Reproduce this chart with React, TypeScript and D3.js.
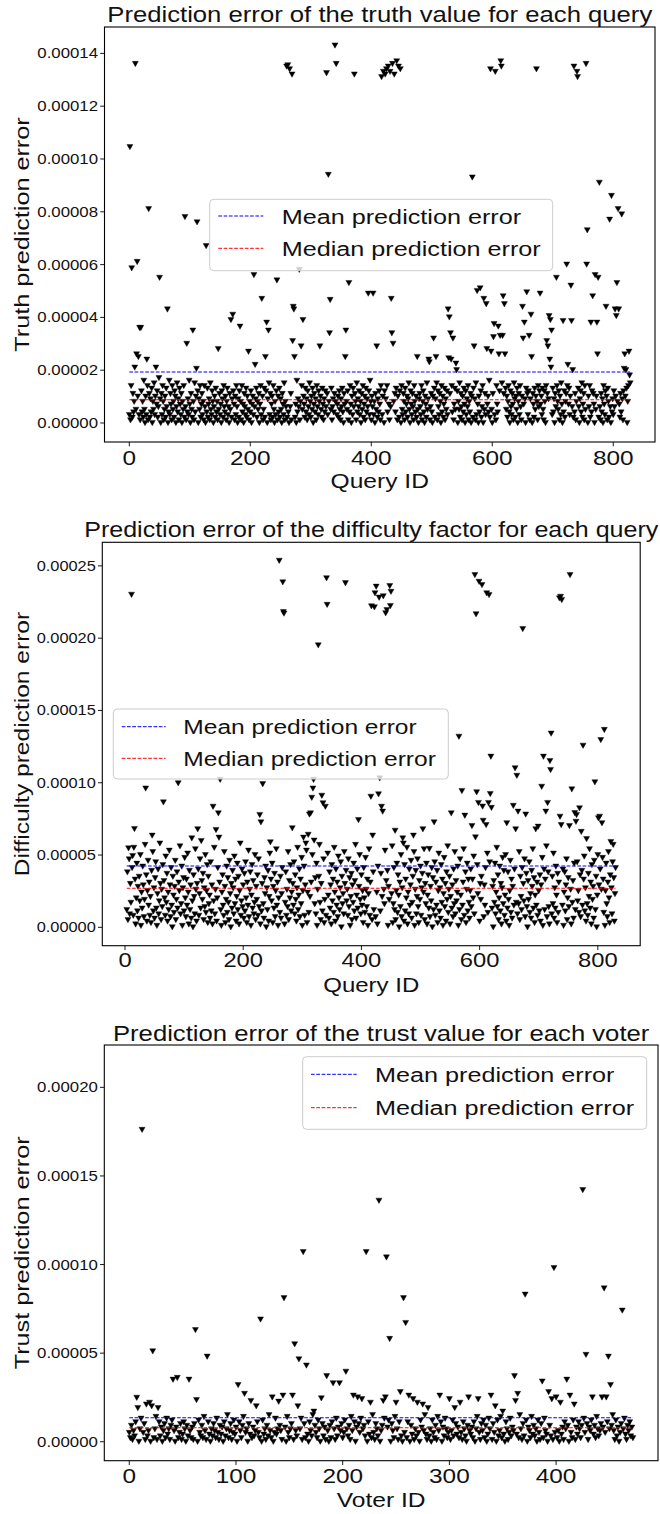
import * as d3 from "d3";

const FONT = "'Liberation Sans', Arial, Helvetica, sans-serif";

// all error values below are in units of 1e-6

// truth value prediction error, query IDs 0..828
const truthBand = [
  3, 9, 1, 14, 6, 2, 11, 4, 8, 0, 13, 5, 7, 2, 10, 15, 3, 6, 1, 9,
  12, 4, 8, 2, 16, 5, 0, 10, 3, 7, 14, 1, 6, 11, 2, 9, 4, 13, 0, 8,
  5, 15, 3, 10, 1, 7, 12, 2, 6, 17, 4, 9, 0, 11, 3, 14, 8, 1, 5, 10,
  2, 13, 6, 9, 0, 4, 16, 3, 11, 7, 1, 14, 5, 8, 2, 12, 10, 0, 6, 15,
  4, 9, 1, 13, 7, 3, 11, 0, 8, 5, 14, 2, 10, 6, 1, 12, 4, 9, 3, 16,
  7, 0, 11, 5, 2, 13, 8, 1, 15, 4, 10, 3, 6, 12, 0, 9, 5, 14, 2, 7,
  11, 3, 8, 1, 14, 6, 0, 10, 4, 13, 2, 7, 9, 1, 15, 5, 3, 12, 8, 0,
  6, 10, 2, 13, 4, 8, 1, 15, 5, 11, 3, 7, 0, 12, 9, 2, 14, 6, 4, 10,
  1, 8, 13, 3, 6, 0, 11, 5, 15, 2, 9, 4, 12, 7, 1, 10, 3, 14, 6, 0,
  9, 2, 12, 5, 8, 1, 14, 4, 7, 0, 11, 6, 3, 13, 2, 10, 5, 16, 1, 8,
  4, 12, 0, 7, 10, 3, 15, 6, 1, 9, 13, 2, 8, 5, 11, 0, 7, 14, 3, 6,
  10, 1, 5, 13, 2, 8, 12, 4, 0, 9, 6, 15, 3, 11, 1, 7, 10, 2, 14, 5,
  0, 8, 3, 12, 6, 1, 10, 4, 13, 2, 9, 5, 0, 11, 7, 3, 15, 1, 8, 6,
  12, 2, 9, 4, 0, 14, 6, 11, 1, 8, 3, 13, 5, 10, 2, 7, 0, 16, 4, 9,
  6, 11, 1, 8, 3, 14, 5, 0, 10, 7, 2, 13, 4, 9, 1, 12, 6, 3, 15, 8,
  2, 10, 5, 13, 0, 7, 11, 4, 9, 1, 14, 6, 3, 12, 8, 0, 10, 5, 2, 13,
  7, 1, 9, 4, 12, 6, 0, 11, 3, 15, 8, 2, 10, 5, 13, 1, 6, 9, 4, 11,
  0, 8, 14, 3, 7, 10, 2, 12, 5, 1, 9, 6, 13, 4, 0, 11, 7, 3, 15, 8,
  5, 12, 1, 9, 4, 14, 7, 0, 10, 3, 13, 6, 2, 11, 8, 1, 15, 4, 9, 6,
  12, 3, 8, 0, 11, 5, 14, 2, 7, 10, 1, 13, 4, 9, 6, 0, 12, 3, 16, 8,
  1, 10, 6, 13, 3, 8, 0, 11, 5, 15, 2, 9, 4, 12, 7, 1, 14, 6, 3, 10,
  8, 0, 12, 5, 9, 2, 14, 4, 11, 7, 1, 13, 6, 3, 10, 0, 15, 8, 2, 11,
  4, 13, 7, 1, 10, 6, 2, 12, 9, 0, 14, 5, 3, 11, 8, 1, 13, 4, 7, 10,
  2, 9, 15, 5, 0, 12, 7, 3, 11, 6, 1, 14, 8, 4, 10, 2, 13, 5, 0, 9,
  11, 6, 3, 14, 1, 8, 12, 4, 0, 10, 7, 2, 15, 5, 9, 3, 13, 1, 6, 11,
  4, 0, 10, 7, 13, 2, 9, 5, 15, 1, 12, 6, 3, 11, 8, 0, 14, 4, 10, 2,
  7, 13, 1, 9, 5, 12, 3, 16, 6, 0, 11, 8, 2, 14, 4, 10, 1, 7, 13, 5,
  9, 3, 12, 0, 8, 5, 15, 2, 11, 6, 1, 10, 4, 13, 7, 0, 12, 3, 9, 6,
  14, 1, 8, 4, 11, 0, 10, 6, 2, 13, 5, 9, 1, 15, 3, 12, 7, 0, 10, 4,
  8, 12, 2, 6, 14, 0, 9, 5, 11, 3, 13, 1, 7, 10, 4, 16, 2, 8, 12, 5,
  0, 11, 6, 13, 3, 9, 1, 14, 7, 4, 10, 2, 12, 5, 8, 0, 15, 6, 3, 11,
  9, 1, 13, 5, 10, 2, 8, 14, 4, 0, 12, 6, 3, 11, 7, 1, 15, 9, 2, 10,
  5, 13, 0, 8, 11, 3, 14, 6, 1, 10, 4, 12, 7, 2, 9, 0, 13, 5, 11, 3,
  12, 6, 1, 9, 15, 4, 0, 11, 7, 2, 13, 5, 10, 3, 8, 1, 14, 6, 12, 0,
  7, 10, 3, 13, 5, 1, 12, 8, 0, 14, 6, 11, 2, 9, 4, 15, 1, 10, 7, 3,
  13, 4, 9, 0, 11, 6, 2, 14, 8, 5, 12, 1, 10, 3, 15, 7, 0, 9, 4, 12,
  2, 8, 11, 5, 14, 1, 7, 13, 3, 10, 0, 12, 6, 9, 2, 15, 4, 11, 1, 8,
  10, 3, 13, 6, 0, 9, 12, 4, 15, 2, 7, 11, 1, 14, 5, 8, 3, 12, 0, 10,
  6, 14, 2, 9, 4, 12, 1, 11, 7, 0, 13, 5, 10, 3, 16, 8, 2, 12, 6, 1,
  11, 4, 9, 0, 14, 7, 3, 12, 5, 10, 1, 13, 8, 2, 15, 6, 0, 11, 4, 9,
  3, 12, 6, 1, 10, 14, 5, 8, 0, 13, 7, 2, 11, 4, 15, 9, 1, 12, 6, 3,
  10, 5, 13, 0, 8, 14, 2, 11, 6,
];
// [query id, error] for the points that stand out of the band
const truthPeaks: [number, number][] = [
  [1, 104.5], [4, 58.6], [9, 21], [10, 136], [12, 26], [13, 61], [15, 25], [17, 36], [19, 36],
  [29, 24], [32, 81], [44, 21], [50, 55], [63, 43], [92, 78], [95, 30], [105, 35], [111, 20.5],
  [112, 76], [127, 67], [147, 28], [168, 39], [171, 41], [183, 36.5], [197, 27], [206, 56],
  [208, 22], [219, 47], [225, 25], [227, 38], [230, 35], [244, 54], [260, 135], [262, 135.5],
  [265, 134], [269, 132], [270, 31], [271, 44], [272, 43], [273, 25], [281, 58], [284, 29],
  [287, 39], [315, 29], [326, 132.5], [329, 94], [331, 34], [332, 46.6], [340, 143], [342, 136],
  [357, 25], [358, 35], [363, 53], [372, 132], [395, 49], [403, 49], [409, 29], [417, 131],
  [420, 133], [423, 132], [425, 134], [428, 135], [431, 133], [433, 47], [434, 34], [435, 136],
  [436, 30], [438, 132], [442, 137], [445, 135], [448, 134], [476, 25], [495, 24], [496, 23],
  [503, 32], [507, 25], [527, 43], [528, 24.5], [529, 40], [531, 34], [532, 24], [535, 32],
  [540, 22.5], [541, 20], [567, 93], [570, 29], [575, 50], [580, 51], [586, 47], [590, 45],
  [591, 28], [597, 134], [598, 27], [602, 32.5], [603, 37.5], [605, 133], [610, 36.5], [611, 26],
  [613, 33], [614, 137], [615, 135], [617, 33], [618, 48], [620, 45], [621, 26], [650, 44],
  [651, 32], [653, 38], [657, 49.5], [661, 33], [664, 41], [665, 25], [673, 134], [679, 49],
  [690, 31], [692, 29], [694, 40.5], [695, 24], [696, 39], [697, 21], [698, 35], [706, 55],
  [717, 38.6], [723, 60], [725, 22], [730, 52], [731, 38.6], [733, 20], [735, 135], [740, 133],
  [741, 131], [755, 136], [756, 60], [757, 73], [763, 38], [766, 48], [770, 56], [773, 38],
  [774, 26], [775, 55], [777, 91], [788, 44], [794, 77], [797, 86], [803, 43], [805, 40.5],
  [806, 53], [808, 81], [809, 43], [814, 79], [818, 20.5], [819, 26], [821, 20], [826, 27],
  [827, 18], [828, 15],
];
const truthMean = 19.3;
const truthMedian = 8.8;

// difficulty factor prediction error, query IDs 3..830
const diffFirstId = 3;
const diffBand = [
  12, 38, 5, 22, 47, 9, 30, 17, 3, 41, 26, 8, 55, 14, 33, 2, 20, 44, 11, 28,
  6, 35, 18, 50, 1, 24, 13, 42, 29, 7, 19, 57, 10, 36, 4, 25, 46, 15, 31, 8,
  21, 3, 39, 16, 52, 11, 27, 6, 34, 45, 13, 1, 23, 40, 9, 18, 58, 30, 5, 26,
  14, 43, 2, 32, 20, 8, 49, 17, 37, 4, 24, 12, 53, 29, 7, 41, 15, 0, 35, 22,
  10, 28, 46, 5, 19, 38, 13, 3, 31, 25, 56, 9, 16, 42, 1, 27, 34, 11, 48, 20,
  7, 33, 15, 51, 24, 2, 39, 12, 29, 6, 44, 18, 0, 36, 21, 9, 54, 26, 4, 30,
  17, 40, 8, 23, 47, 13, 1, 32, 19, 37, 5, 27, 14, 50, 10, 25, 43, 3, 35, 16,
  22, 6, 45, 11, 29, 2, 38, 18, 55, 9, 26, 33, 4, 20, 41, 14, 7, 31, 48, 12,
  1, 24, 36, 15, 8, 52, 28, 3, 19, 42, 10, 34, 17, 5, 46, 23, 0, 30, 13, 39,
  27, 9, 49, 16, 33, 4, 21, 44, 12, 35, 2, 25, 58, 8, 18, 40, 14, 29, 6, 37,
  11, 45, 20, 3, 31, 15, 53, 7, 26, 38, 1, 22, 43, 13, 32, 9, 17, 50, 5, 28,
  19, 36, 8, 47, 14, 24, 2, 40, 11, 30, 56, 16, 6, 34, 23, 42, 0, 27, 12, 39,
  4, 21, 51, 9, 33, 18, 44, 3, 28, 13, 37, 7, 25, 54, 15, 31, 1, 20, 46, 10,
  35, 6, 23, 41, 12, 29, 48, 2, 17, 38, 8, 26, 14, 52, 5, 32, 20, 43, 11, 24,
  0, 30, 15, 45, 9, 36, 19, 4, 27, 55, 12, 22, 40, 7, 33, 16, 48, 1, 25, 13,
  42, 8, 29, 18, 53, 3, 24, 37, 10, 46, 21, 6, 31, 14, 50, 2, 27, 39, 16, 34,
  9, 44, 1, 26, 12, 35, 57, 17, 5, 30, 41, 11, 23, 47, 3, 19, 36, 8, 28, 15,
  51, 22, 6, 38, 13, 29, 2, 43, 18, 33, 10, 55, 24, 4, 40, 15, 31, 7, 49, 20,
  12, 27, 45, 0, 35, 16, 23, 9, 52, 30, 3, 39, 18, 26, 8, 47, 14, 34, 1, 21,
  37, 5, 29, 17, 44, 11, 32, 57, 6, 22, 40, 13, 2, 28, 50, 19, 9, 36, 15, 25,
  3, 41, 20, 10, 48, 26, 14, 33, 1, 23, 54, 8, 31, 17, 43, 5, 27, 38, 12, 46,
  18, 7, 35, 24, 2, 42, 15, 29, 51, 11, 37, 4, 21, 45, 9, 26, 16, 53, 6, 32,
  13, 39, 1, 28, 19, 47, 8, 34, 23, 56, 3, 16, 41, 12, 30, 5, 25, 44, 10, 36,
  22, 0, 31, 14, 50, 7, 27, 38, 18, 4, 43, 11, 33, 20, 55, 2, 24, 9, 40, 15,
  29, 46, 6, 17, 35, 12, 52, 1, 26, 39, 9, 21, 47, 14, 3, 32, 19, 42, 8, 27,
  37, 10, 24, 54, 5, 30, 16, 44, 2, 22, 36, 13, 49, 7, 28, 18, 41, 0, 34, 12,
  20, 45, 8, 31, 15, 39, 3, 25, 51, 11, 27, 6, 43, 17, 33, 1, 23, 48, 14, 30,
  4, 38, 19, 56, 10, 26, 35, 2, 21, 46, 13, 29, 7, 40, 16, 52, 9, 32, 18, 24,
  42, 1, 28, 12, 47, 22, 5, 36, 15, 31, 54, 8, 19, 38, 3, 26, 44, 11, 33, 17,
  6, 25, 40, 14, 2, 33, 20, 49, 9, 37, 16, 27, 1, 43, 23, 12, 55, 4, 30, 19,
  35, 11, 23, 47, 7, 29, 15, 41, 3, 26, 51, 10, 34, 18, 45, 6, 21, 38, 13, 28,
  0, 32, 17, 44, 9, 24, 55, 14, 36, 5, 20, 42, 11, 30, 2, 27, 48, 16, 39, 8,
  22, 50, 4, 31, 13, 38, 19, 1, 25, 46, 10, 33, 6, 28, 53, 15, 40, 3, 24, 17,
  43, 9, 27, 16, 52, 5, 35, 21, 12, 41, 2, 30, 18, 47, 7, 26, 37, 14, 0, 32,
  19, 45, 10, 23, 6, 39, 28, 54, 13, 34, 3, 22, 44, 15, 31, 8, 50, 25, 11, 36,
  4, 29, 17, 48, 1, 26, 40, 12, 33, 20, 56, 7, 24, 38, 14, 2, 43, 18, 30, 9,
  35, 16, 51, 6, 27, 13, 42, 22, 3, 37, 10, 31, 46, 19, 8, 28, 53, 15, 40, 1,
  24, 38, 11, 29, 47, 5, 20, 34, 14, 57, 9, 26, 2, 41, 17, 32, 6, 44, 21, 12,
  30, 3, 45, 18, 25, 10, 52, 36, 7, 23, 39, 15, 1, 33, 49, 11, 27, 4, 42, 16,
  8, 37, 21, 54, 13, 31, 2, 43, 19, 28, 6, 46, 24, 12, 35, 0, 22, 50, 9, 29,
  17, 40, 5, 26, 14, 48, 33, 10, 38, 1, 25, 44, 16, 7, 31, 52, 20, 3, 36, 13,
  27, 9, 45, 18, 34, 4, 23, 41,
];
const diffPeaks: [number, number][] = [
  [6, 54.6], [11, 230], [13, 49.3], [16, 68], [35, 96], [46, 63.4], [65, 86.4], [90, 99.6],
  [113, 61.5], [123, 67.8], [129, 59.7], [149, 83.4], [154, 67.3], [158, 78.8], [159, 62],
  [161, 102], [228, 77.7], [230, 72.6], [233, 99], [246, 58.8], [261, 253.5], [267, 238.6],
  [268, 218], [269, 217], [283, 68.5], [302, 62], [306, 58], [310, 64], [312, 78], [314, 78.8],
  [316, 89.6], [318, 96], [319, 102], [320, 60], [327, 195], [333, 91], [335, 85.8], [339, 83.4],
  [341, 241.4], [342, 223], [373, 238], [395, 74.2], [416, 90.3], [417, 222], [419, 63.4],
  [422, 221.3], [423, 231], [425, 235.6], [429, 92], [430, 228], [431, 103], [434, 83.4],
  [436, 80], [437, 229], [441, 217.2], [443, 219.4], [448, 236], [449, 222.2], [450, 232],
  [457, 66.8], [470, 61.5], [471, 58], [488, 63.4], [504, 67.8], [515, 54.2], [523, 72.6],
  [552, 78.8], [565, 131.8], [570, 94.3], [575, 77.2], [587, 70], [592, 243.6], [593, 62.2],
  [594, 216.5], [595, 93.4], [598, 86], [599, 239], [604, 236.7], [605, 83.5], [606, 73.7],
  [611, 70.7], [612, 231], [615, 86], [616, 229.8], [618, 92.2], [619, 118], [620, 82.6],
  [646, 72], [657, 84], [660, 110], [661, 67.8], [663, 104.8], [665, 80], [673, 206.3],
  [678, 78], [695, 67.8], [699, 69.6], [705, 97.2], [708, 118], [712, 80], [715, 86],
  [719, 115], [720, 108.8], [721, 134], [735, 227.5], [736, 76.5], [737, 228.6], [738, 70.7],
  [739, 226.4], [752, 70], [753, 243.6], [756, 95.4], [761, 79], [763, 73], [764, 77.7],
  [769, 82.3], [772, 66], [775, 125.6], [781, 61], [795, 100.3], [801, 75.4], [803, 76.5],
  [805, 129.5], [807, 72], [811, 136.5], [822, 59], [826, 57],
];
const diffMean = 42.4;
const diffMedian = 27;

// trust value prediction error, voter IDs 0..472
const trustBand = [
  5, 2, 9, 1, 6, 3, 11, 8, 4, 0, 7, 13, 2, 5, 10, 1, 8, 3, 6, 12,
  0, 4, 9, 2, 7, 14, 1, 5, 11, 3, 8, 0, 6, 10, 2, 13, 4, 7, 1, 9,
  12, 3, 6, 0, 8, 15, 2, 5, 10, 1, 4, 11, 7, 0, 9, 3, 13, 6, 2, 8,
  1, 10, 4, 7, 0, 12, 5, 3, 9, 2, 14, 6, 1, 8, 11, 4, 0, 7, 3, 10,
  6, 2, 13, 5, 1, 9, 4, 8, 0, 11, 3, 7, 15, 2, 6, 10, 1, 5, 12, 4,
  8, 0, 3, 11, 6, 2, 9, 14, 1, 5, 7, 0, 10, 4, 13, 2, 8, 3, 6, 1,
  11, 5, 2, 8, 0, 12, 4, 7, 1, 9, 3, 15, 6, 2, 10, 0, 5, 13, 4, 7,
  2, 9, 6, 1, 11, 3, 8, 0, 14, 5, 2, 7, 10, 4, 1, 12, 6, 3, 9, 0,
  7, 13, 1, 5, 10, 2, 8, 4, 0, 11, 6, 3, 15, 1, 9, 5, 2, 12, 7, 0,
  4, 10, 3, 8, 1, 14, 6, 0, 9, 2, 11, 5, 7, 1, 13, 3, 8, 0, 6, 10,
  2, 5, 12, 0, 7, 3, 9, 1, 14, 6, 4, 11, 0, 8, 2, 10, 5, 13, 1, 7,
  9, 3, 6, 0, 11, 4, 8, 2, 15, 5, 1, 10, 7, 3, 12, 0, 6, 9, 2, 13,
  5, 1, 8, 12, 3, 0, 10, 6, 2, 14, 4, 7, 1, 11, 9, 3, 0, 13, 5, 8,
  2, 11, 6, 0, 9, 4, 13, 1, 7, 3, 10, 5, 0, 12, 8, 2, 6, 15, 4, 1,
  10, 3, 7, 0, 12, 5, 2, 9, 1, 14, 6, 4, 11, 0, 8, 3, 13, 7, 2, 5,
  9, 1, 6, 12, 3, 0, 10, 4, 8, 2, 15, 5, 1, 11, 7, 3, 0, 9, 13, 6,
  4, 8, 2, 11, 0, 7, 14, 3, 5, 1, 10, 6, 12, 2, 9, 0, 4, 13, 7, 3,
  1, 10, 5, 8, 0, 12, 3, 6, 14, 2, 9, 4, 0, 11, 7, 1, 5, 13, 3, 8,
  6, 0, 11, 4, 9, 2, 15, 7, 1, 10, 3, 5, 12, 0, 8, 6, 2, 14, 4, 9,
  3, 7, 0, 12, 5, 1, 10, 8, 2, 13, 6, 4, 0, 11, 9, 3, 7, 1, 15, 5,
  10, 2, 6, 0, 13, 4, 8, 1, 11, 7, 3, 9, 0, 14, 5, 2, 12, 6, 1, 8,
  4, 11, 7, 2, 9, 0, 13, 5, 3, 10, 1, 8, 6, 12, 0, 4, 9, 2, 14, 7,
  3, 6, 10, 1, 8, 13, 5, 0, 11, 4, 7, 2, 9, 15, 6, 1, 12, 3, 8, 0,
  5, 10, 2, 7, 13, 4, 1, 9, 6, 11, 3, 8, 2,
];
const trustPeaks: [number, number][] = [
  [7, 24.8], [8, 19], [12, 176], [16, 21], [19, 22], [21, 20], [22, 51], [27, 19], [41, 35],
  [45, 36], [56, 35], [62, 63], [63, 23.5], [73, 48], [102, 32], [108, 27], [114, 23], [119, 20],
  [123, 69], [134, 25], [140, 22.6], [144, 26], [145, 81], [153, 26], [155, 55], [158, 20],
  [159, 46.5], [163, 107], [166, 43], [173, 17], [180, 24.5], [185, 37], [191, 33], [197, 33],
  [203, 39.5], [210, 26], [214, 25], [218, 24], [222, 107], [226, 22], [234, 136], [238, 23],
  [240, 25], [241, 104], [244, 58], [250, 22], [254, 28], [257, 81], [259, 67], [262, 26],
  [266, 24], [270, 22], [275, 21], [280, 19], [291, 26], [300, 24], [305, 19], [310, 22],
  [318, 25], [327, 24], [339, 26], [343, 20], [350, 17], [361, 37], [362, 23], [364, 27],
  [371, 83], [387, 34], [393, 28], [396, 24], [398, 98], [400, 25], [404, 22], [410, 35],
  [413, 26], [417, 21], [425, 142], [428, 49], [434, 25], [443, 25], [445, 86.5], [447, 25],
  [449, 48], [451, 32], [462, 74],
];
const trustMean = 13.5;
const trustMedian = 7.9;

const truthYTicks = [0, 20, 40, 60, 80, 100, 120, 140];
const diffYTicks = [0, 50, 100, 150, 200, 250];
const trustYTicks = [0, 50, 100, 150, 200];
const queryXTicks = [0, 200, 400, 600, 800];
const voterXTicks = [0, 100, 200, 300, 400];

const legendLabels = ["Mean prediction error", "Median prediction error"];
const legendColors = ["blue", "red"];

type Pt = { id: number; v: number };

function joinPoints(band: number[], peaks: [number, number][], firstId: number): Pt[] {
  const m = new Map(peaks);
  return band.map((v, i) => ({ id: i + firstId, v: m.get(i + firstId) ?? v }));
}

const fmt = d3.format(".5f");
// downward triangle marker ('v')
const TRI = "M-3,-2.6L3,-2.6L0,2.7Z";

type Cfg = {
  title: string;
  yLabel: string;
  xLabel: string;
  left: number;
  right: number;
  top: number;
  bottom: number;
  xDomain: [number, number];
  yDomain: [number, number];
  xTicks: number[];
  yTicks: number[];
  points: Pt[];
  mean: number;
  median: number;
  lineIds: [number, number];
  sx: number;
  titleY: number;
  xTickDy: number;
  xLabelDy: number;
  yLabelX: number;
  legend: { x: number; y: number; w: number; h: number; hx: number; hw: number; tx: number; rows: number[] };
};

const panels: Cfg[] = [
  {
    title: "Prediction error of the truth value for each query",
    yLabel: "Truth prediction error",
    xLabel: "Query ID",
    left: 104.5, right: 655, top: 27, bottom: 442,
    xDomain: [-41, 869], yDomain: [-7.2, 150],
    xTicks: queryXTicks, yTicks: truthYTicks,
    points: joinPoints(truthBand, truthPeaks, 0),
    mean: truthMean, median: truthMedian, lineIds: [0, 828],
    sx: 1.2, titleY: 21.5, xTickDy: 23, xLabelDy: 45.5, yLabelX: 29,
    legend: { x: 209.7, y: 199.3, w: 343, h: 71.4, hx: 218.3, hw: 45, tx: 281.7, rows: [216, 248.3] },
  },
  {
    title: "Prediction error of the difficulty factor for each query",
    yLabel: "Difficulty prediction error",
    xLabel: "Query ID",
    left: 102.3, right: 640.2, top: 542.3, bottom: 945.7,
    xDomain: [-38.4, 871.7], yDomain: [-12.7, 266.3],
    xTicks: queryXTicks, yTicks: diffYTicks,
    points: joinPoints(diffBand, diffPeaks, diffFirstId),
    mean: diffMean, median: diffMedian, lineIds: [3, 830],
    sx: 1.17, titleY: 536.7, xTickDy: 21.6, xLabelDy: 46, yLabelX: 29,
    legend: { x: 113.3, y: 709, w: 335, h: 70, hx: 121.7, hw: 44, tx: 183.3, rows: [726.7, 758.3] },
  },
  {
    title: "Prediction error of the trust value for each voter",
    yLabel: "Trust prediction error",
    xLabel: "Voter ID",
    left: 104.3, right: 658, top: 1045, bottom: 1460.7,
    xDomain: [-23.4, 495.5], yDomain: [-10.7, 223.9],
    xTicks: voterXTicks, yTicks: trustYTicks,
    points: joinPoints(trustBand, trustPeaks, 0),
    mean: trustMean, median: trustMedian, lineIds: [0, 472],
    sx: 1.2, titleY: 1041, xTickDy: 22.6, xLabelDy: 46.6, yLabelX: 29,
    legend: { x: 302.7, y: 1056.7, w: 344, h: 72.6, hx: 311, hw: 45.7, tx: 375, rows: [1074.3, 1107.7] },
  },
];

function Panel({ c }: { c: Cfg }) {
  const x = d3.scaleLinear().domain(c.xDomain).range([c.left, c.right]);
  const y = d3.scaleLinear().domain(c.yDomain).range([c.bottom, c.top]);
  const cx = (c.left + c.right) / 2;
  const cy = (c.top + c.bottom) / 2;
  const lg = c.legend;
  return (
    <g fontFamily={FONT} fill="#111">
      {c.points.map((p, i) => (
        <path
          key={i}
          d={TRI}
          transform={`translate(${x(p.id)},${y(p.v)})`}
          fill="#000"
          stroke="#000"
          strokeWidth={0.4}
          strokeLinejoin="miter"
        />
      ))}
      {[c.mean, c.median].map((v, i) => (
        <line
          key={i}
          x1={x(c.lineIds[0])}
          x2={x(c.lineIds[1])}
          y1={y(v)}
          y2={y(v)}
          stroke={legendColors[i]}
          strokeWidth={1.1}
          strokeDasharray="3.7 1.6"
        />
      ))}
      <rect x={c.left} y={c.top} width={c.right - c.left} height={c.bottom - c.top} fill="none" stroke="#000" strokeWidth={1.1} />
      {c.yTicks.map((t) => (
        <g key={t}>
          <line x1={c.left - 4.3} x2={c.left} y1={y(t)} y2={y(t)} stroke="#000" strokeWidth={0.9} />
          <text transform={`translate(${c.left - 6.5},${y(t) + 5}) scale(${c.sx},1)`} fontSize={14} textAnchor="end">
            {fmt(t * 1e-6)}
          </text>
        </g>
      ))}
      {c.xTicks.map((t) => (
        <g key={t}>
          <line x1={x(t)} x2={x(t)} y1={c.bottom} y2={c.bottom + 4.3} stroke="#000" strokeWidth={0.9} />
          <text transform={`translate(${x(t)},${c.bottom + c.xTickDy}) scale(${c.sx},1)`} fontSize={20.3} textAnchor="middle">
            {t}
          </text>
        </g>
      ))}
      <text transform={`translate(${cx},${c.titleY}) scale(${c.sx},1)`} fontSize={21.4} textAnchor="middle">
        {c.title}
      </text>
      <text transform={`translate(${cx},${c.bottom + c.xLabelDy}) scale(${c.sx},1)`} fontSize={20.5} textAnchor="middle">
        {c.xLabel}
      </text>
      <text transform={`translate(${c.yLabelX},${cy}) rotate(-90) scale(${c.sx},1)`} fontSize={21} textAnchor="middle">
        {c.yLabel}
      </text>
      <rect x={lg.x} y={lg.y} width={lg.w} height={lg.h} rx={4} fill="#fff" fillOpacity={0.8} stroke="#cccccc" strokeWidth={1} />
      {lg.rows.map((ry, i) => (
        <g key={i}>
          <line x1={lg.hx} x2={lg.hx + lg.hw} y1={ry} y2={ry} stroke={legendColors[i]} strokeWidth={1} strokeDasharray="3.7 1.6" />
          <text transform={`translate(${lg.tx},${ry + 7.5}) scale(${c.sx},1)`} fontSize={21}>
            {legendLabels[i]}
          </text>
        </g>
      ))}
    </g>
  );
}

export default function App() {
  return (
    <svg
      width={660}
      height={1514}
      style={{ position: "absolute", left: 0, top: 0, background: "#fff" }}
    >
      <rect width={660} height={1514} fill="#fff" />
      {panels.map((c, i) => (
        <Panel key={i} c={c} />
      ))}
    </svg>
  );
}
